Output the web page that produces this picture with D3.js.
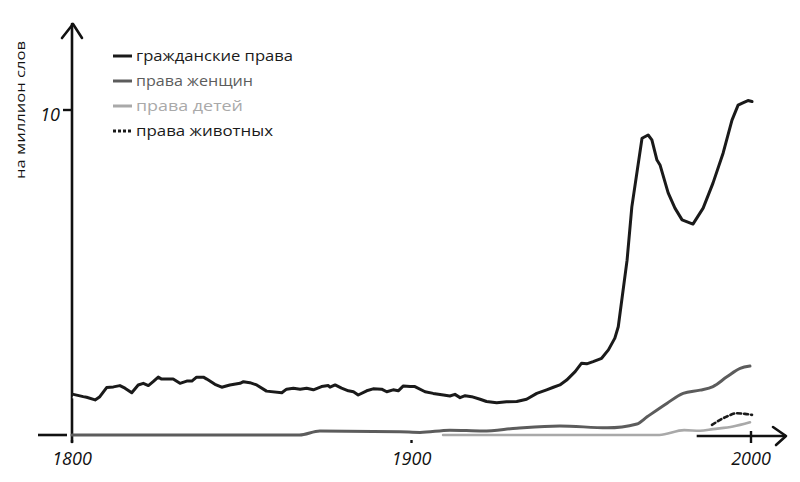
<!DOCTYPE html>
<html><head><meta charset="utf-8">
<script src="https://cdn.jsdelivr.net/npm/d3@7"></script>
<style>
html,body{margin:0;padding:0;background:#fff;}
svg{display:block;}
text{font-family:"Open Sans","DejaVu Sans",sans-serif;}
</style></head>
<body>
<svg id="chart" width="800" height="482"></svg>
<script>
// ---- data ----
const legendLabels = ["гражданские права", "права женщин", "права детей", "права животных"];
const xTickLabels = [1800, 1900, 2000];
const yTickLabels = [10];
const yAxisTitle = "на миллион слов";

const civilYears = [1800.4,1803.3,1804.3,1806.8,1808.2,1810.2,1812.2,1814.1,1815.6,1817.6,1819.5,1821,1822.5,1823.9,1825.4,1826.4,1829.8,1831.8,1833.8,1835.3,1836.7,1838.7,1839.7,1842.1,1844.1,1846.5,1849.5,1850.5,1852.4,1854.4,1857.3,1861.8,1863.2,1865.2,1867.2,1869.1,1871.1,1873.5,1875.5,1876,1877.5,1879.4,1881.4,1882.9,1884.3,1886.8,1888.7,1891.2,1892.7,1894.6,1896.1,1897.6,1899.6,1901,1904,1906.4,1909.4,1911.3,1912.8,1914.3,1915.8,1917.7,1920.2,1922.1,1925.1,1928,1931,1933.9,1936.9,1939.8,1941.8,1943.7,1945.7,1948.2,1950.1,1951.6,1953.5,1956,1958,1959.9,1960.9,1963.5,1964.9,1967.9,1969.7,1970.8,1972.3,1973.2,1975.6,1977.6,1979.7,1982.9,1985.9,1988.8,1991.8,1994.4,1996.2,1997.6,1999.1,2000.3];
const civilValues = [1.25,1.18,1.16,1.08,1.18,1.46,1.48,1.52,1.44,1.30,1.54,1.59,1.52,1.64,1.78,1.72,1.72,1.59,1.66,1.66,1.78,1.78,1.72,1.56,1.47,1.54,1.59,1.64,1.61,1.54,1.35,1.30,1.41,1.44,1.41,1.44,1.39,1.49,1.52,1.47,1.54,1.44,1.36,1.33,1.23,1.36,1.42,1.41,1.33,1.39,1.36,1.51,1.49,1.49,1.33,1.28,1.23,1.20,1.25,1.15,1.21,1.18,1.10,1.03,0.99,1.02,1.03,1.10,1.28,1.39,1.47,1.54,1.69,1.95,2.21,2.19,2.26,2.36,2.62,2.98,3.33,5.38,7.02,9.13,9.23,9.08,8.46,8.31,7.45,6.98,6.62,6.49,6.98,7.75,8.68,9.69,10.15,10.22,10.29,10.26];

const womenYears = [1800,1867,1873,1896.6,1902.5,1911.3,1921,1931,1943.7,1957.6,1966.4,1969.4,1975.3,1980,1985,1988.8,1992.9,1996.8,1999.7];
const womenValues = [0,0,0.12,0.10,0.08,0.15,0.12,0.21,0.28,0.22,0.34,0.56,0.98,1.28,1.38,1.49,1.79,2.05,2.12];

const childYears = [1909.3,1926,1973,1980.3,1985,1988.8,1994.7,1999.7];
const childValues = [0,0,0,0.15,0.13,0.18,0.26,0.39];

const animalYears = [1988.5,1992.9,1995.9,1998.2,2000.3];
const animalValues = [0.31,0.57,0.67,0.65,0.62];

// ---- drawing ----
const svg = d3.select("#chart");
const x = d3.scaleLinear().domain([1800, 2000]).range([72, 751]);
const y = d3.scaleLinear().domain([0, 10]).range([435, 110]);

const series = [
  {years: civilYears, values: civilValues, color: "#1a1a1a", width: 3, dash: null, halo: true, curve: d3.curveLinear},
  {years: womenYears, values: womenValues, color: "#5c5c5c", width: 3, dash: null, curve: d3.curveMonotoneX},
  {years: childYears, values: childValues, color: "#a9a9a9", width: 2.6, dash: null, curve: d3.curveMonotoneX},
  {years: animalYears, values: animalValues, color: "#1a1a1a", width: 2.6, dash: "4,3", curve: d3.curveMonotoneX}
];

// y axis line with open arrow
const yTop = 24;
svg.append("line").attr("x1", x(1800)).attr("x2", x(1800)).attr("y1", y(0) + 7).attr("y2", yTop)
  .attr("stroke", "#111").attr("stroke-width", 2.6).attr("stroke-linecap", "round");
svg.append("path").attr("d", `M${x(1800)-10},${yTop+14} L${x(1800)+1},${yTop} L${x(1800)+10},${yTop+14}`)
  .attr("fill", "none").attr("stroke", "#111").attr("stroke-width", 2.6).attr("stroke-linecap", "round").attr("stroke-linejoin", "round");

// x axis: left stub and right segment with arrow
svg.append("line").attr("x1", x(1800) - 34).attr("x2", x(1800) - 5).attr("y1", y(0)).attr("y2", y(0))
  .attr("stroke", "#111").attr("stroke-width", 2.6);
const xTip = 786;
svg.append("line").attr("x1", x(1984)).attr("x2", xTip).attr("y1", y(0) + 1).attr("y2", y(0) + 1)
  .attr("stroke", "#111").attr("stroke-width", 2.6);
svg.append("path").attr("d", `M${xTip-13},${y(0)-8} L${xTip},${y(0)+1} L${xTip-10},${y(0)+10}`)
  .attr("fill", "none").attr("stroke", "#111").attr("stroke-width", 2.6).attr("stroke-linecap", "round").attr("stroke-linejoin", "round");

// x ticks
xTickLabels.forEach((t, i) => {
  const top = i === 2 ? y(0) - 4 : y(0) + 5;
  svg.append("line").attr("x1", x(t)).attr("x2", x(t)).attr("y1", top).attr("y2", y(0) + 8)
    .attr("stroke", "#111").attr("stroke-width", 2.4);
  svg.append("text").attr("x", x(t)).attr("y", y(0) + 30).attr("text-anchor", "middle")
    .attr("font-size", 18).attr("font-style", "italic").attr("fill", "#111").text(t);
});

// y ticks
yTickLabels.forEach(t => {
  svg.append("line").attr("x1", x(1800) - 9).attr("x2", x(1800)).attr("y1", y(t)).attr("y2", y(t))
    .attr("stroke", "#111").attr("stroke-width", 2.4);
  svg.append("text").attr("x", x(1800) - 12).attr("y", y(t) + 11).attr("text-anchor", "end")
    .attr("font-size", 18).attr("font-style", "italic").attr("fill", "#111").text(t);
});

// y title
svg.append("text").attr("transform", `translate(25,110) rotate(-90)`).attr("text-anchor", "middle")
  .attr("font-size", 13).attr("fill", "#111").attr("textLength", 138).attr("lengthAdjust", "spacingAndGlyphs")
  .text(yAxisTitle);

// series
series.forEach(s => {
  const pts = s.years.map((yr, i) => [yr, s.values[i]]);
  const line = d3.line().x(d => x(d[0])).y(d => y(d[1])).curve(s.curve);
  if (s.halo) {
    svg.append("path").datum(pts).attr("d", line).attr("fill", "none")
      .attr("stroke", "#fff").attr("stroke-width", 8).attr("stroke-linejoin", "round");
  }
  svg.append("path").datum(pts).attr("d", line).attr("fill", "none")
    .attr("stroke", s.color).attr("stroke-width", s.width).attr("stroke-linejoin", "round")
    .attr("stroke-linecap", "round").attr("stroke-dasharray", s.dash);
});

// legend
const legY = [56, 81, 106, 131];
const legW = [157, 117, 107, 137];
series.forEach((s, i) => {
  const g = svg.append("g").attr("transform", `translate(113,${legY[i]})`);
  g.append("line").attr("x1", 0).attr("x2", 19).attr("y1", 0).attr("y2", 0)
    .attr("stroke", s.color).attr("stroke-width", 3).attr("stroke-dasharray", s.dash ? "3,2" : null);
  g.append("text").attr("x", 23).attr("y", 5).attr("font-size", 14).attr("fill", s.color)
    .attr("textLength", legW[i]).attr("lengthAdjust", "spacingAndGlyphs").text(legendLabels[i]);
});
</script>
</body></html>
